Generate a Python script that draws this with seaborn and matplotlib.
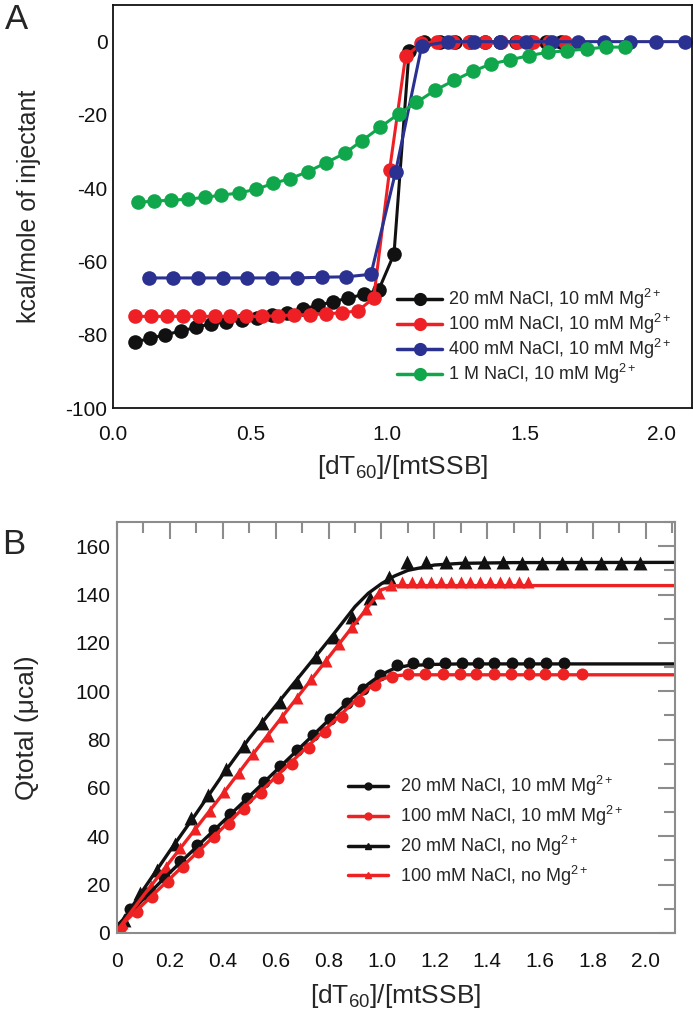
import seaborn as sns
import matplotlib.pyplot as plt
from matplotlib.lines import Line2D
from matplotlib.ticker import MultipleLocator

sns.set_theme(style="white")
plt.rcParams["font.family"] = ["Liberation Sans", "DejaVu Sans"]
plt.rcParams["mathtext.fontset"] = "custom"
plt.rcParams["mathtext.rm"] = "Liberation Sans"
plt.rcParams["mathtext.it"] = "Liberation Sans:italic"
plt.rcParams["axes.unicode_minus"] = False

# ---- Panel A data: heat per injection ----
a_labels = [r"20 mM NaCl, 10 mM Mg$^{2+}$", r"100 mM NaCl, 10 mM Mg$^{2+}$",
            r"400 mM NaCl, 10 mM Mg$^{2+}$", r"1 M NaCl, 10 mM Mg$^{2+}$"]
a_colors = ["#111111", "#ee2025", "#2b3190", "#10a64b"]

a20_x = [0.08, 0.136, 0.191, 0.247, 0.302, 0.358, 0.413, 0.469, 0.524, 0.580,
         0.635, 0.691, 0.746, 0.802, 0.857, 0.913, 0.968, 1.024, 1.079, 1.135,
         1.19, 1.246, 1.301, 1.357, 1.412, 1.468, 1.523, 1.579, 1.634]
a20_y = [-82, -81, -80, -79, -78, -77, -76.5, -76, -75.5, -74.5,
         -74, -73, -72, -71, -70, -69, -67.8, -58, -2.5, 0,
         0, 0, 0, 0, 0, 0, 0, 0, 0]

a100_x = [0.08, 0.138, 0.196, 0.254, 0.312, 0.37, 0.428, 0.486, 0.544, 0.602,
          0.66, 0.718, 0.776, 0.834, 0.892, 0.95, 1.008, 1.066, 1.124, 1.182,
          1.24, 1.298, 1.356, 1.414, 1.472, 1.53, 1.588, 1.646]
a100_y = [-75, -75, -75, -75, -75, -75, -75, -75, -75, -74.8,
          -74.6, -74.5, -74.3, -74, -73.5, -70, -35, -4, -0.5, 0,
          0, 0, 0, 0, 0, 0, 0, 0]

a400_x = [0.13, 0.22, 0.31, 0.40, 0.49, 0.58, 0.67, 0.76, 0.85, 0.94,
          1.03, 1.125, 1.22, 1.315, 1.41, 1.505, 1.60, 1.695, 1.79, 1.885,
          1.98, 2.085]
a400_y = [-64.5, -64.5, -64.5, -64.5, -64.5, -64.5, -64.5, -64.3, -64.2, -63.5,
          -35.5, -1.2, 0, 0, 0, 0, 0, 0, 0, 0,
          0, 0]

a1m_x = [0.090, 0.148, 0.213, 0.274, 0.334, 0.395, 0.460, 0.521, 0.584, 0.645,
         0.710, 0.778, 0.844, 0.908, 0.973, 1.041, 1.106, 1.175, 1.243, 1.311,
         1.377, 1.445, 1.517, 1.585, 1.655, 1.727, 1.795, 1.865]
a1m_y = [-43.9, -43.5, -43.3, -43.0, -42.5, -41.9, -41.3, -40.3, -38.7, -37.4,
         -35.5, -33.0, -30.5, -27.0, -23.4, -19.7, -16.6, -13.2, -10.6, -8.1,
         -6.1, -5.0, -3.8, -2.9, -2.5, -2.0, -1.5, -1.5]

# ---- Panel B data: cumulative heat ----
b_labels = [r"20 mM NaCl, 10 mM Mg$^{2+}$", r"100 mM NaCl, 10 mM Mg$^{2+}$",
            r"20 mM NaCl, no Mg$^{2+}$", r"100 mM NaCl, no Mg$^{2+}$"]
b_colors = ["#111111", "#ee2222", "#111111", "#ee2222"]

bc20_x = [0.05, 0.113, 0.176, 0.239, 0.302, 0.365, 0.428, 0.491, 0.554, 0.617,
          0.68, 0.743, 0.806, 0.869, 0.932, 0.995, 1.058, 1.12, 1.177, 1.24,
          1.306, 1.365, 1.427, 1.494, 1.559, 1.624, 1.69]
bc20_y = [10.0, 16.6, 23.1, 29.7, 36.2, 42.8, 49.3, 55.9, 62.4, 69.0,
          75.5, 82.1, 88.6, 95.0, 101.0, 106.7, 111.0, 111.5, 111.5, 111.5,
          111.5, 111.5, 111.5, 111.5, 111.5, 111.5, 111.5]

bc100_x = [0.015, 0.074, 0.133, 0.191, 0.25, 0.306, 0.366, 0.425, 0.482, 0.544,
           0.607, 0.663, 0.726, 0.788, 0.851, 0.914, 0.976, 1.039, 1.102, 1.164,
           1.231, 1.296, 1.359, 1.424, 1.49, 1.557, 1.619, 1.685, 1.76]
bc100_y = [2.4, 8.6, 15.0, 21.2, 27.4, 33.4, 39.6, 45.0, 51.3, 57.8,
           64.3, 70.0, 76.5, 83.0, 89.5, 95.8, 102.5, 106.0, 107.0, 107.2,
           107.2, 107.2, 107.2, 107.2, 107.2, 107.2, 107.2, 107.2, 107.2]

bt20_x = [0.028, 0.087, 0.153, 0.218, 0.281, 0.344, 0.412, 0.48, 0.547, 0.615,
          0.682, 0.751, 0.82, 0.889, 0.958, 1.027, 1.095, 1.168, 1.243, 1.315,
          1.386, 1.459, 1.532, 1.606, 1.681, 1.756, 1.831, 1.906, 1.979]
bt20_y = [5.4, 16.4, 26.1, 36.8, 47.4, 57.1, 67.7, 77.5, 86.8, 95.5,
          104.0, 114.3, 122.6, 130.9, 138.5, 147.4, 153.6, 153.5, 153.4, 153.3,
          153.3, 153.3, 153.2, 153.2, 153.2, 153.2, 153.2, 153.2, 153.0]

bt100_x = [0.02, 0.075, 0.13, 0.185, 0.24, 0.295, 0.35, 0.405, 0.46, 0.515,
           0.57, 0.625, 0.68, 0.735, 0.79, 0.84, 0.89, 0.94, 0.99, 1.035,
           1.077, 1.114, 1.151, 1.188, 1.225, 1.262, 1.299, 1.336, 1.373, 1.41,
           1.447, 1.484, 1.521, 1.555]
bt100_y = [4.0, 11.5, 19.5, 27.5, 35.0, 43.0, 50.5, 58.5, 66.0, 74.0,
           81.5, 89.5, 97.0, 105.0, 112.5, 119.5, 126.5, 134.0, 140.5, 144.0,
           145.0, 145.0, 145.0, 145.0, 145.0, 145.0, 145.0, 145.0, 145.0, 145.0,
           145.0, 145.0, 145.0, 145.0]

# fitted curves, read at these ratios
fit_x = [0, 0.1, 0.2, 0.3, 0.4, 0.5, 0.6, 0.7, 0.8, 0.9, 0.95, 1.0, 1.05, 1.1,
         1.2, 1.3, 1.5, 2.11]
fit_c20 = [3.0, 14.0, 25.0, 35.5, 46.0, 56.5, 67.0, 77.5, 88.0, 98.2, 103.0,
           107.0, 109.5, 110.6, 111.1, 111.3, 111.3, 111.3]
fit_c100 = [1.5, 12.0, 22.5, 33.0, 43.5, 54.0, 64.5, 75.0, 85.5, 96.0, 101.0,
            105.0, 106.4, 106.8, 106.8, 106.8, 106.8, 106.8]
fit_t20 = [1.5, 18.0, 34.0, 49.5, 65.5, 80.5, 94.0, 107.5, 121.0, 135.0, 140.5,
           144.5, 147.7, 150.0, 152.2, 152.9, 153.2, 153.3]
fit_t100 = [1.0, 15.5, 29.5, 43.5, 57.5, 72.0, 86.0, 100.0, 114.0, 128.0, 135.0,
            142.0, 143.6, 143.7, 143.7, 143.7, 143.7, 143.7]

b_xticks = [0, 0.2, 0.4, 0.6, 0.8, 1.0, 1.2, 1.4, 1.6, 1.8, 2.0]
b_xticklabels = ["0", "0.2", "0.4", "0.6", "0.8", "1.0", "1.2", "1.4", "1.6", "1.8", "2.0"]

W, H = 693, 1015
fig = plt.figure(figsize=(W / 100, H / 100), dpi=100)
axA = fig.add_axes([113 / W, 1 - 408 / H, (692 - 113) / W, (408 - 5) / H])
axB = fig.add_axes([117 / W, 1 - 933 / H, (675 - 117) / W, (933 - 522) / H])

# ---------- Panel A ----------
a_series = [(a20_x, a20_y), (a100_x, a100_y), (a400_x, a400_y), (a1m_x, a1m_y)]
for (xs, ys), c in zip(a_series, a_colors):
    sns.lineplot(x=xs, y=ys, ax=axA, color=c, marker="o", markersize=10.5,
                 markeredgewidth=0, linewidth=2.2, sort=False, estimator=None)

axA.set_xlim(0, 2.11)
axA.set_ylim(-100, 10)
axA.set_xticks([0.0, 0.5, 1.0, 1.5, 2.0])
axA.set_yticks([-100, -80, -60, -40, -20, 0])
axA.tick_params(direction="in", length=5, width=1.3, labelsize=15, colors="#111111",
                top=False, right=False)
axA.tick_params(axis="x", pad=12)
axA.tick_params(axis="y", pad=4)
for s in axA.spines.values():
    s.set_linewidth(1.3)
    s.set_color("#111111")
axA.set_xlabel(r"[dT$_{60}$]/[mtSSB]", fontsize=19)
axA.set_ylabel("kcal/mole of injectant", fontsize=18)
axA.xaxis.set_label_coords(0.5, -0.112)
axA.yaxis.set_label_coords(-0.125, 0.5)

handlesA = [Line2D([], [], color=c, marker="o", markersize=9.5, linewidth=2.5,
                   markeredgewidth=0) for c in a_colors]
axA.legend(handlesA, a_labels, loc="upper left", bbox_to_anchor=(388 / W, 1 - 278 / H),
           bbox_transform=fig.transFigure, frameon=False, fontsize=13,
           handlelength=2.5, handletextpad=0.3, labelspacing=0.05, borderpad=0)

# ---------- Panel B ----------
b_points = [(bc20_x, bc20_y, "o", 75), (bc100_x, bc100_y, "o", 75),
            (bt20_x, bt20_y, "^", 100), (bt100_x, bt100_y, "^", 75)]
b_fits = [fit_c20, fit_c100, fit_t20, fit_t100]
for (xs, ys, m, sz), fy, c in zip(b_points, b_fits, b_colors):
    sns.lineplot(x=fit_x, y=fy, ax=axB, color=c, linewidth=2.4, sort=False,
                 estimator=None)
    sns.scatterplot(x=xs, y=ys, ax=axB, color=c, marker=m, s=sz, linewidth=0)

axB.set_xlim(0, 2.11)
axB.set_ylim(0, 170)
axB.set_xticks(b_xticks)
axB.set_xticklabels(b_xticklabels)
axB.xaxis.set_minor_locator(MultipleLocator(0.1))
axB.set_yticks([0, 20, 40, 60, 80, 100, 120, 140, 160])
axB.yaxis.set_minor_locator(MultipleLocator(10))
axB.tick_params(which="both", direction="in", top=True, right=True,
                color="#8c8c8c", width=1.5, labelsize=15, labelcolor="#111111")
axB.tick_params(which="major", length=12)
axB.tick_params(which="minor", length=8)
axB.tick_params(axis="x", which="major", pad=14)
axB.tick_params(axis="y", which="major", pad=5)
for s in axB.spines.values():
    s.set_linewidth(1.5)
    s.set_color("#8c8c8c")
axB.set_xlabel(r"[dT$_{60}$]/[mtSSB]", fontsize=19)
axB.set_ylabel("Qtotal (μcal)", fontsize=19)
axB.xaxis.set_label_coords(0.5, -0.12)
axB.yaxis.set_label_coords(-0.14, 0.5)

handlesB = [Line2D([], [], color=c, marker=m, markersize=5, linewidth=2.5)
            for c, m in zip(b_colors, ["o", "o", "^", "^"])]
axB.legend(handlesB, b_labels, loc="upper left", bbox_to_anchor=(339 / W, 1 - 765 / H),
           bbox_transform=fig.transFigure, frameon=False, fontsize=13,
           handlelength=2.2, handletextpad=0.7, labelspacing=0.32, borderpad=0)

fig.text(5 / W, 1 - 3 / H, "A", fontsize=25, va="top", ha="left")
fig.text(2 / W, 1 - 528 / H, "B", fontsize=25, va="top", ha="left")

fig.savefig("out.png", dpi=100)
